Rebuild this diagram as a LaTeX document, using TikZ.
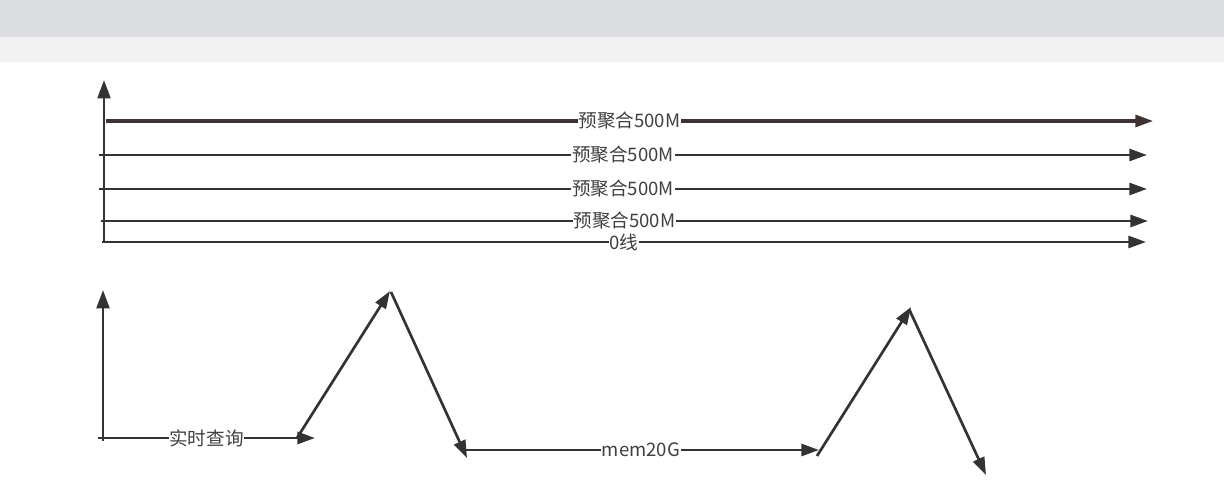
\documentclass[tikz,border=0pt]{standalone}
\usepackage{fontspec}
\setmainfont{Noto Sans CJK SC}
\definecolor{ChartDark}{HTML}{333333}
\definecolor{ChartTop}{HTML}{403232}
\definecolor{ChartText}{HTML}{404040}
\definecolor{BarGray}{HTML}{DCDDE1}
\definecolor{BandGray}{HTML}{F2F2F2}
\usetikzlibrary{arrows.meta, positioning, calc}
\tikzset{
    axis/.style={
        -{Triangle[length=0.46cm, width=0.32cm]},
        line width=2pt,
        ChartDark
    },
    level/.style={
        -{Triangle[length=0.44cm, width=0.3cm]},
        line width=1.9pt,
        ChartDark
    },
    toplevel/.style={
        level,
        line width=2.2pt,
        ChartTop
    },
    tag/.style={
        fill=white,
        text=ChartText,
        font=\fontsize{13.2pt}{15pt}\selectfont,
        inner sep=0.5pt
    }
}
\begin{document}
\begin{tikzpicture}[x=0.025cm, y=-0.025cm]
        % Page frame
        \useasboundingbox (0,0) rectangle (1224,484);
        \fill[white] (0,0) rectangle (1224,484);
        \fill[BarGray] (0,0) rectangle (1224,37);
        \fill[BandGray] (0,37) rectangle (1224,62);

        % Upper chart
        \coordinate (ya0) at (104,242);
        \coordinate (ya1) at (104,80);
        \draw[axis] (ya0) -- (ya1);

        \coordinate (l1a) at (106,121);
        \coordinate (l1b) at (1153,121);
        \coordinate (l2a) at (99,155);
        \coordinate (l2b) at (1147,155);
        \coordinate (l3a) at (99,189);
        \coordinate (l3b) at (1147,189);
        \coordinate (l4a) at (101,221);
        \coordinate (l4b) at (1148,221);
        \coordinate (l0a) at (102,242);
        \coordinate (l0b) at (1146,242);

        \draw[toplevel] (l1a) -- node[tag] (t1) {预聚合500M} (l1b);
        \draw[level] (l2a) -- node[tag] (t2) {预聚合500M} (l2b);
        \draw[level] (l3a) -- node[tag] (t3) {预聚合500M} (l3b);
        \draw[level] (l4a) -- node[tag] (t4) {预聚合500M} (l4b);
        \draw[level] (l0a) -- node[tag] (t0) {0线} (l0b);

        % Lower chart
        \coordinate (yb0) at (103,441);
        \coordinate (yb1) at (103,290);
        \draw[axis] (yb0) -- (yb1);

        \coordinate (q0) at (98,438);
        \coordinate (q1) at (315,438);
        \coordinate (p1) at (297,438);
        \coordinate (p2) at (390,291);
        \coordinate (p3) at (391,292);
        \coordinate (p4) at (467,458);
        \coordinate (m0) at (463,450);
        \coordinate (m1) at (819,450);
        \coordinate (p5) at (817,456);
        \coordinate (p6) at (911,307);
        \coordinate (p7) at (909,309);
        \coordinate (p8) at (986,475);

        \draw[level] (q0) -- node[tag] (tq) {实时查询} (q1);
        \draw[level] (p1) -- (p2);
        \draw[level] (p3) -- (p4);
        \draw[level] (m0) -- node[tag] (tm) {mem20G} (m1);
        \draw[level] (p5) -- (p6);
        \draw[level] (p7) -- (p8);
    \end{tikzpicture}
\end{document}
